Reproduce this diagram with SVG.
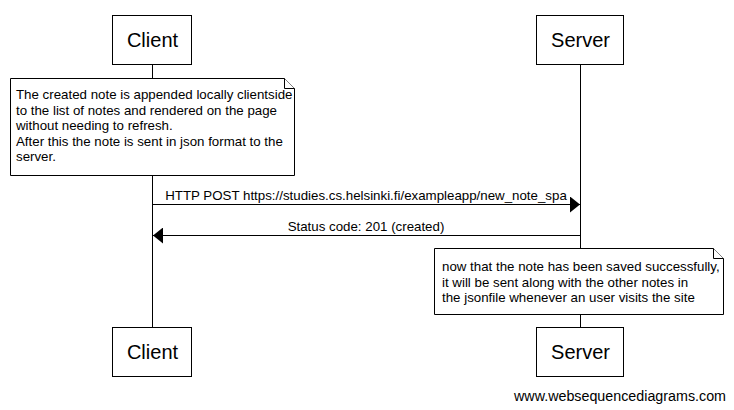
<svg xmlns="http://www.w3.org/2000/svg" width="734" height="410" viewBox="0 0 734 410">
<style>
.box{fill:#fff;stroke:#000;stroke-width:1}
.life{stroke:#000;stroke-width:1}
.t{font-family:"Liberation Sans",Arial,sans-serif;fill:#000}
.big{font-size:20px}
.sm{font-size:13.3px}
.msg{stroke:#000;stroke-width:1;fill:none}
</style>
<defs>
<marker id="ah" markerWidth="10" markerHeight="16" refX="10" refY="8" orient="auto" markerUnits="userSpaceOnUse">
<path d="M0,0 L10,8 L0,16 Z" fill="#000"/>
</marker>
</defs>
<rect width="734" height="410" fill="#fff"/>
<g id="lifelines">
<line class="life" x1="152.5" y1="64" x2="152.5" y2="327"/>
<line class="life" x1="580.5" y1="64" x2="580.5" y2="327"/>
</g>
<g id="client-top">
<rect class="box" x="112.5" y="15.5" width="79" height="49"/>
<text class="t big" x="152.5" y="47" text-anchor="middle">Client</text>
</g>
<g id="server-top">
<rect class="box" x="536.5" y="15.5" width="87" height="49"/>
<text class="t big" x="580.5" y="47" text-anchor="middle">Server</text>
</g>
<g id="note1">
<path class="box" d="M10.5,78.5 H284.5 L294.5,88.5 V175.5 H10.5 Z"/>
<path class="box" d="M284.5,78.5 V88.5 H294.5" fill="none"/>
<text class="t sm" x="16" y="99">The created note is appended locally clientside</text>
<text class="t sm" x="16" y="115">to the list of notes and rendered on the page</text>
<text class="t sm" x="16" y="130">without needing to refresh.</text>
<text class="t sm" x="16" y="146">After this the note is sent in json format to the</text>
<text class="t sm" x="16" y="161">server.</text>
</g>
<g id="connectors">
<line class="msg" x1="152.5" y1="204.5" x2="580" y2="204.5" marker-end="url(#ah)"/>
<text class="t sm" x="366" y="200" text-anchor="middle">HTTP POST https://studies.cs.helsinki.fi/exampleapp/new_note_spa</text>
<line class="msg" x1="580.5" y1="235.5" x2="153" y2="235.5" marker-end="url(#ah)"/>
<text class="t sm" x="366" y="231" text-anchor="middle">Status code: 201 (created)</text>
</g>
<g id="note2">
<path class="box" d="M434.5,248.5 H713.5 L723.5,258.5 V314.5 H434.5 Z"/>
<path class="box" d="M713.5,248.5 V258.5 H723.5" fill="none"/>
<text class="t sm" x="442" y="271">now that the note has been saved successfully,</text>
<text class="t sm" x="442" y="287">it will be sent along with the other notes in</text>
<text class="t sm" x="442" y="302">the jsonfile whenever an user visits the site</text>
</g>
<g id="client-bottom">
<rect class="box" x="112.5" y="327.5" width="79" height="49"/>
<text class="t big" x="152.5" y="359" text-anchor="middle">Client</text>
</g>
<g id="server-bottom">
<rect class="box" x="536.5" y="327.5" width="87" height="49"/>
<text class="t big" x="580.5" y="359" text-anchor="middle">Server</text>
</g>
<text class="t" font-size="14" x="726" y="401" text-anchor="end" textLength="212" lengthAdjust="spacingAndGlyphs">www.websequencediagrams.com</text>
</svg>
